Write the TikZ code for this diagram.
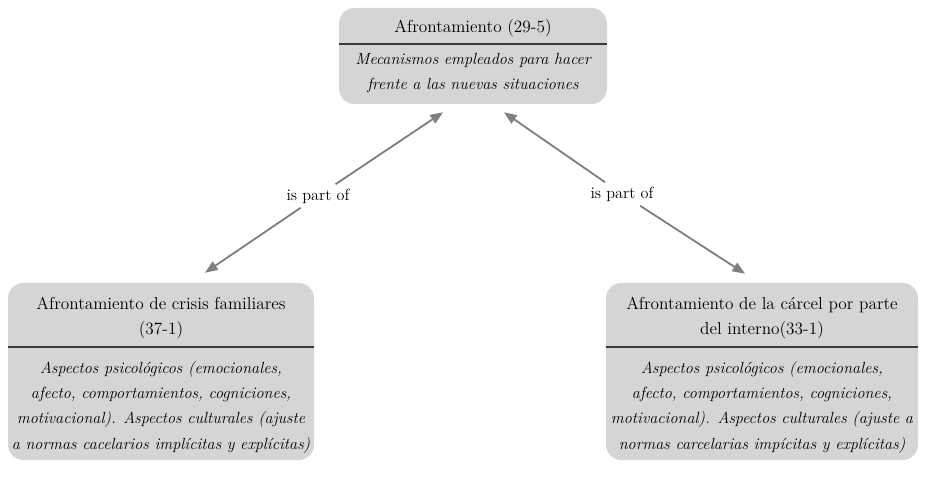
\documentclass[tikz,border=0pt]{standalone}
\usepackage{tikz}
\usetikzlibrary{arrows.meta,positioning,calc}
\definecolor{boxgray}{HTML}{D4D5D7}
\definecolor{linkgray}{HTML}{7F7F7F}
\definecolor{rulecol}{HTML}{3A3A3A}
\tikzset{
  concept/.style={fill=boxgray, rounded corners=11pt, inner sep=0pt},
  head/.style={align=center, font=\fontsize{12.3}{18}\selectfont, inner sep=0pt},
  body/.style={align=center, font=\fontsize{11.5}{18}\selectfont\itshape, inner sep=0pt},
  divider/.style={rulecol, line width=0.9pt},
  linkphrase/.style={font=\fontsize{11.5}{14}\selectfont, inner sep=3pt},
  link/.style={-{Triangle[length=9pt,width=7pt]}, line width=1.3pt, color=linkgray},
}
\begin{document}
\begin{tikzpicture}[x=0.025cm,y=-0.025cm]
  \useasboundingbox (0,0) rectangle (925,477);
  % main concept
  \node[concept, minimum width=268*0.025cm, minimum height=96*0.025cm] (top) at (473,56) {};
  \node[head] (topT) at (473,28) {Afrontamiento (29-5)};
  \draw[divider] (top.west |- 0,44) -- (top.east |- 0,44);
  \node[body] (topB) at (473,73) {Mecanismos empleados para hacer\\frente a las nuevas situaciones};
  % sub concepts
  \node[concept, minimum width=306*0.025cm, minimum height=177*0.025cm] (left) at (161,371.5) {};
  \node[head] (leftT) at (161,318) {Afrontamiento de crisis familiares\\(37-1)};
  \draw[divider] (left.west |- 0,347) -- (left.east |- 0,347);
  \node[body] (leftB) at (161,407) {Aspectos psicológicos (emocionales,\\afecto, comportamientos, cogniciones,\\motivacional). Aspectos culturales (ajuste\\a normas cacelarios implícitas y explícitas)};
  \node[concept, minimum width=312*0.025cm, minimum height=177*0.025cm] (right) at (762,371.5) {};
  \node[head] (rightT) at (762,318) {Afrontamiento de la cárcel por parte\\del interno(33-1)};
  \draw[divider] (right.west |- 0,347) -- (right.east |- 0,347);
  \node[body] (rightB) at (762,407) {Aspectos psicológicos (emocionales,\\afecto, comportamientos, cogniciones,\\motivacional). Aspectos culturales (ajuste a\\normas carcelarias impícitas y explícitas)};
  % linking phrases
  \node[linkphrase] (lab1) at (318,196) {is part of};
  \node[linkphrase] (lab2) at (622,194) {is part of};
  \draw[link] (lab1) -- ($(top.south)+(-30,8)$);
  \draw[link] (lab1) -- ($(left.north)+(44,-10)$);
  \draw[link] (lab2) -- ($(top.south)+(31,8)$);
  \draw[link] (lab2) -- ($(right.north)+(-17,-9)$);
\end{tikzpicture}
\end{document}
